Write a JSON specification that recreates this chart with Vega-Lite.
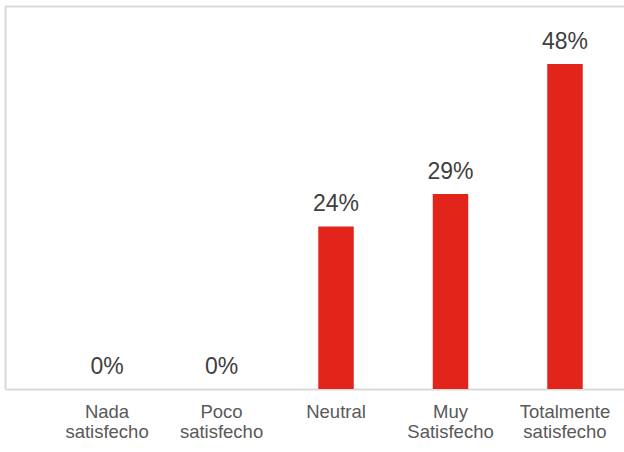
{
  "$schema": "https://vega.github.io/schema/vega-lite/v6.json",
  "width": 619,
  "height": 383,
  "autosize": {"type": "none"},
  "padding": {"left": 5, "top": 6, "right": 0, "bottom": 63},
  "background": "white",
  "config": {
    "view": {"stroke": null},
    "font": "Liberation Sans",
    "axis": {"domainColor": "#d9d9d9", "domainWidth": 2}
  },
  "data": {
    "values": [
      {"categoria": "Nada satisfecho", "porcentaje": 0},
      {"categoria": "Poco satisfecho", "porcentaje": 0},
      {"categoria": "Neutral", "porcentaje": 0.2381},
      {"categoria": "Muy Satisfecho", "porcentaje": 0.2857},
      {"categoria": "Totalmente satisfecho", "porcentaje": 0.4762}
    ]
  },
  "encoding": {
    "x": {
      "field": "categoria",
      "type": "nominal",
      "sort": null,
      "scale": {"paddingInner": 0.69, "paddingOuter": 0.5483, "align": 0.6714}
    },
    "y": {
      "field": "porcentaje",
      "type": "quantitative",
      "scale": {"domain": [0, 0.561], "nice": false},
      "axis": {"title": null, "labels": false, "ticks": false, "grid": false, "domain": true}
    }
  },
  "layer": [
    {
      "mark": {"type": "bar", "color": "#e3241b"},
      "encoding": {
        "x": {
          "field": "categoria",
          "type": "nominal",
          "sort": null,
          "axis": {
            "orient": "bottom",
            "title": null,
            "domain": true,
            "ticks": false,
            "labelAngle": 0,
            "labelExpr": "split(datum.label, ' ')",
            "labelFontSize": 18.5,
            "labelLineHeight": 20,
            "labelColor": "#595959",
            "labelPadding": 13,
            "labelFont": "Liberation Sans"
          }
        }
      }
    },
    {
      "mark": {"type": "text", "baseline": "alphabetic", "dy": -15, "fontSize": 23, "color": "#404040", "font": "Liberation Sans"},
      "encoding": {
        "x": {
          "field": "categoria",
          "type": "nominal",
          "sort": null,
          "axis": {"orient": "top", "title": null, "labels": false, "ticks": false, "domain": true}
        },
        "text": {"field": "porcentaje", "type": "quantitative", "format": ".0%"}
      }
    }
  ],
  "resolve": {"axis": {"x": "independent"}}
}
